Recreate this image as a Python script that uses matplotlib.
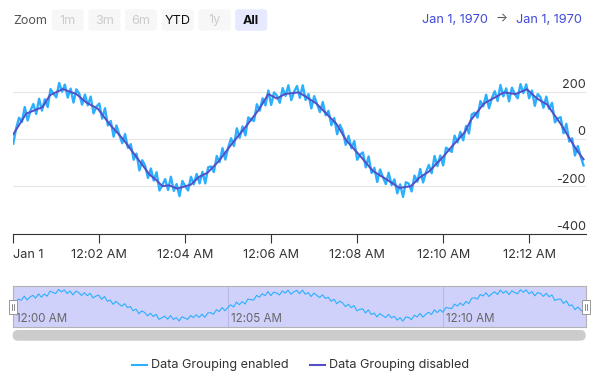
import numpy as np
import matplotlib
matplotlib.use('Agg')
import matplotlib.pyplot as plt
from matplotlib.patches import FancyBboxPatch, Rectangle

plt.rcParams['font.family'] = ['Inter', 'DejaVu Sans']

# ---------------- data ----------------
# noisy series ("Data Grouping enabled"), one value every 4 seconds
raw_step_s = 4
raw_values = [
    -20, 45, 90, 72, 135, 78, 120, 148, 106, 170,
    120, 168, 135, 211, 192, 176, 237, 200, 230, 175,
    213, 154, 210, 192, 145, 188, 142, 179, 108, 137,
    150, 86, 130, 57, 76, 10, 57, 18, -18, 21,
    -38, -22, -88, -62, -133, -90, -113, -165, -125, -176,
    -141, -218, -195, -170, -216, -160, -220, -191, -242, -178,
    -200, -218, -160, -192, -148, -188, -139, -188, -120, -116,
    -140, -72, -98, -39, -87, -36, 3, -30, 45, 5,
    53, 15, 91, 82, 76, 147, 120, 172, 142, 205,
    144, 197, 183, 153, 215, 182, 227, 164, 200, 224,
    174, 227, 165, 190, 129, 181, 148, 114, 156, 100,
    119, 58, 89, 20, 60, 32, -25, 13, -39, -9,
    -88, -66, -57, -120, -74, -144, -122, -182, -129, -162,
    -191, -143, -195, -171, -230, -192, -245, -183, -189, -222,
    -155, -181, -127, -184, -141, -110, -145, -72, -115, -70,
    -112, -37, -46, -55, 14, -15, 30, -6, 55, 23,
    104, 111, 90, 160, 138, 187, 130, 172, 202, 161,
    228, 180, 214, 159, 217, 190, 172, 232, 194, 231,
    172, 205, 140, 190, 176, 132, 179, 127, 153, 70,
    87, 92, 24, 64, -11, 3, -70, -30, -75, -112,
]
raw_t = np.arange(len(raw_values)) * raw_step_s

# smooth series ("Data Grouping disabled"): time (s), value
grp_t = [0, 18, 41, 51, 69, 88, 102, 118, 134, 153,
         176, 190, 201, 208, 217, 229, 248, 259, 271, 287,
         305, 324, 342, 356, 368, 379, 398, 405, 423, 437,
         451, 465, 484, 502, 521, 539, 555, 567, 581, 592,
         599, 611, 630, 639, 657, 685, 701, 717, 731, 745,
         764, 787, 796]
grp_v = [20, 107, 135, 185, 211, 190, 154, 128, 64, 0,
         -93, -150, -178, -200, -196, -210, -193, -161, -143, -93,
         -21, 50, 121, 190, 171, 190, 197, 185, 150, 107,
         64, -7, -71, -136, -171, -207, -200, -164, -136, -100,
         -79, -36, 28, 81, 150, 197, 190, 210, 171, 146,
         64, -50, -86]

series_names = ["Data Grouping enabled", "Data Grouping disabled"]
series_colors = ["#2caffe", "#544fc5"]

x_ticks = [0, 120, 240, 360, 480, 600, 720]
x_labels = ["Jan 1", "12:02 AM", "12:04 AM", "12:06 AM", "12:08 AM", "12:10 AM", "12:12 AM"]
y_ticks = [-400, -200, 0, 200]
y_labels = ["-400", "-200", "0", "200"]
nav_ticks = [0, 300, 600]
nav_labels = ["12:00 AM", "12:05 AM", "12:10 AM"]
buttons = ["1m", "3m", "6m", "YTD", "1y", "All"]
button_state = ["disabled", "disabled", "disabled", "normal", "disabled", "selected"]
date_from = "Jan 1, 1970"
date_to = "Jan 1, 1970"

# ---------------- layout ----------------
W, H = 600, 377
fig = plt.figure(figsize=(W / 100, H / 100), dpi=100)

def fbox(l, t, r, b):
    return [l / W, 1 - b / H, (r - l) / W, (b - t) / H]

XMAX = 799
TXT = "#333333"
FS = 9.1

# main chart
ax = fig.add_axes(fbox(13.3, 44.4, 585.7, 233.5))
ax.set_xlim(0, XMAX)
ax.set_ylim(-400, 400)
for v in y_ticks[1:]:
    ax.axhline(v, color="#e6e6e6", lw=0.8, zorder=0)
ax.plot(raw_t, raw_values, color=series_colors[0], lw=1.7, zorder=2, solid_joinstyle="round")
ax.plot(grp_t, grp_v, color=series_colors[1], lw=1.4, zorder=3, solid_joinstyle="round")
for sp in ["top", "left", "right"]:
    ax.spines[sp].set_visible(False)
ax.spines["bottom"].set_color("#333333")
ax.spines["bottom"].set_linewidth(0.8)
ax.set_yticks([])
ax.set_xticks(x_ticks)
ax.set_xticklabels(x_labels, fontsize=FS, color=TXT)
ax.get_xticklabels()[0].set_ha("left")
ax.tick_params(axis="x", length=6.5, width=0.8, color="#333333", pad=4.5)
for v, lab in zip(y_ticks, y_labels):
    ax.annotate(lab, xy=(1, v), xycoords=("axes fraction", "data"),
                xytext=(0, 4.8), textcoords="offset points",
                ha="right", va="center", fontsize=FS, color=TXT)
ax.patch.set_alpha(0)

# navigator
nav = fig.add_axes(fbox(12.7, 286, 585.7, 326.7))
nav.set_facecolor("#cfd1fa")
nav.set_xlim(0, XMAX)
nav.set_ylim(-330, 290)
for t, lab in zip(nav_ticks, nav_labels):
    nav.axvline(t, color="#b5b8e6", lw=0.7, zorder=1)
    nav.annotate(lab, xy=(t, 0), xycoords=("data", "axes fraction"),
                 xytext=(2.5, 5.5), textcoords="offset points",
                 ha="left", va="center", fontsize=8.3, color="#666666")
nav.plot(raw_t, raw_values, color=series_colors[0], lw=0.8, zorder=2)
nav.set_xticks([])
nav.set_yticks([])
for sp in nav.spines.values():
    sp.set_color("#b3b3b3")
    sp.set_linewidth(0.8)

# overlay in pixel coordinates for UI decorations
ov = fig.add_axes([0, 0, 1, 1], zorder=5)
ov.set_xlim(0, W)
ov.set_ylim(H, 0)
ov.axis("off")
ov.patch.set_alpha(0)

# range selector
ov.text(13.3, 20.5, "Zoom", fontsize=FS, color="#555555", ha="left", va="center")
bx0, bw, bgap = 51.7, 32, 4.7
for i, (lab, st) in enumerate(zip(buttons, button_state)):
    x0 = bx0 + i * (bw + bgap)
    fc = "#e6e9ff" if st == "selected" else "#f7f7f7"
    ov.add_patch(FancyBboxPatch((x0, 9.3), bw, 21.4, boxstyle="round,pad=0,rounding_size=3",
                                fc=fc, ec="none"))
    col = "#cccccc" if st == "disabled" else "#111111"
    ov.text(x0 + bw / 2, 20.5, lab, fontsize=FS, color=col, ha="center", va="center",
            fontweight="bold" if st == "selected" else "normal")

ov.text(421.7, 20, date_from, fontsize=FS, color="#4048d8", ha="left", va="center")
ov.text(501.5, 19.5, "\u2192", fontsize=FS, color="#555555", ha="center", va="center")
ov.text(582, 20, date_to, fontsize=FS, color="#4048d8", ha="right", va="center")

# navigator handles
for cx in (12.7, 585.7):
    ov.add_patch(Rectangle((cx - 4.2, 299.5), 8.4, 14.5, fc="white", ec="#999999", lw=0.7))
    for dx in (-1.2, 1.2):
        ov.plot([cx + dx, cx + dx], [303.5, 310], color="#777777", lw=0.6)

# scrollbar
ov.add_patch(FancyBboxPatch((12.7, 330), 573, 10.7, boxstyle="round,pad=0,rounding_size=5.3",
                            fc="#cccccc", ec="none"))

# legend
leg_items = [(131.7, series_names[0], series_colors[0]), (309.6, series_names[1], series_colors[1])]
for x0, name, col in leg_items:
    ov.plot([x0, x0 + 15], [365, 365], color=col, lw=1.5)
    ov.text(x0 + 19, 365, name, fontsize=FS, color=TXT, ha="left", va="center")

fig.savefig("out.png", dpi=100)
